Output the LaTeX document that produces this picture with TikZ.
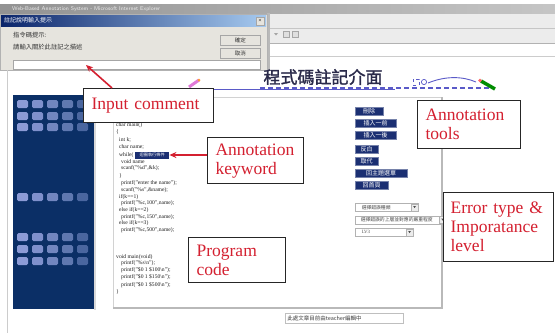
\documentclass[tikz,border=0pt]{standalone}
\usepackage{fontspec}
\setmainfont{Liberation Serif}
\newfontfamily\cjk{Noto Sans CJK TC}
\newfontfamily\cjkb[FakeBold=1.6]{Noto Sans CJK TC}
\usetikzlibrary{arrows.meta}
\definecolor{redc}{HTML}{D42030}
\definecolor{navyp}{HTML}{0B2F66}
\definecolor{navyb}{HTML}{1B2F72}
\definecolor{dlgbg}{HTML}{E6E4DE}
\definecolor{dlgtl}{HTML}{0A246A}
\definecolor{dlgtr}{HTML}{A6CAF0}
\definecolor{sqa}{HTML}{8C9BD6}
\definecolor{sqb}{HTML}{7F90CC}
\definecolor{sqc}{HTML}{7286BF}
\definecolor{sqd}{HTML}{5F78B0}
\definecolor{sqe}{HTML}{4A669F}
\definecolor{bluel}{HTML}{5A5AC8}
\definecolor{titlec}{HTML}{2A2A4A}
\definecolor{pinkp}{HTML}{E07AD8}
\tikzset{
  callout/.style={draw=black!85, line width=1.2pt, fill=white, text=redc,
    font=\fontsize{17.5}{19}\selectfont, align=left, anchor=north west,
    inner xsep=8pt, inner ysep=0pt},
  redarrow/.style={draw=redc, line width=1.6pt, -{Stealth[length=7pt,width=6pt]}},
  codeline/.style={anchor=west, inner sep=0pt, text=black!88, font=\fontsize{5.6}{6}\selectfont},
  toolbtn/.style={fill=navyb, draw=navyb!60, line width=0.4pt, text=white, anchor=north west,
    inner sep=0pt, font=\cjk\fontsize{6}{6}\selectfont, minimum height=8pt},
  dropbox/.style={fill=white, draw=gray!60, line width=0.5pt, anchor=north west, inner xsep=1.5pt,
    inner ysep=0pt, text=black!70, font=\cjk\fontsize{4.8}{5}\selectfont, minimum height=8pt, text depth=0pt},
  dlgbtn/.style={fill=dlgbg, draw=gray!70, line width=0.6pt, anchor=north west, inner sep=0pt,
    minimum width=40pt, minimum height=10pt, font=\cjk\fontsize{5.5}{6}\selectfont, text=black!80},
  dlgtext/.style={anchor=west, inner sep=0pt, text=black!80, font=\cjk\fontsize{6.3}{7}\selectfont}
}
\begin{document}
\begin{tikzpicture}[x=1pt,y=-1pt]
\useasboundingbox (0,0) rectangle (555,333);
\fill[white] (0,0) rectangle (555,333);

% browser chrome
\shade[left color=gray!85, right color=gray!45] (0,4) rectangle (555,14);
\node[anchor=west, inner sep=0pt, text=white!85!gray, font=\sffamily\fontsize{5.5}{6}\selectfont] (ietitle) at (12,9) {Web-Based Annotation System - Microsoft Internet Explorer};
\fill[gray!15] (268,14) rectangle (555,43);
\draw[gray!45] (268,28) -- (555,28);
\draw[gray!60] (268,43) -- (555,43);
\fill[white] (268,44) rectangle (555,56);
\draw[gray!40] (268,56) -- (555,56);
\fill[gray!70] (274,33) -- (278,33) -- (276,35.5) -- cycle;
\draw[gray!70, fill=gray!25] (283,31) rectangle (289,37);
\draw[gray!70, fill=gray!25] (292,31) rectangle (298,37);

% dialog
\fill[gray!55] (267,13) rectangle (270,71);
\draw[gray!60, fill=dlgbg] (0,14) rectangle (267,70);
\shade[left color=dlgtl, right color=dlgtr] (1,15) rectangle (266,26);
\node[anchor=west, inner sep=0pt, text=white, font=\cjk\fontsize{6}{6}\selectfont] (dlgtitle) at (4,20.5) {註記說明輸入提示};
\node[fill=dlgbg, draw=gray!70, inner sep=0pt, minimum width=8pt, minimum height=8pt, font=\fontsize{6}{6}\selectfont] (dlgclose) at (260,21) {×};
\node[dlgtext] (prompt1) at (13,35) {指令碼提示:};
\node[dlgtext] (prompt2) at (13,47) {請輸入關於此註記之描述};
\node[dlgbtn] (okbtn) at (220,35) {確定};
\node[dlgbtn] (cancelbtn) at (220,48) {取消};
\node[fill=white, draw=gray!70, line width=0.6pt, anchor=north west, inner sep=0pt, minimum width=247pt, minimum height=9pt] (inbox) at (13,60) {};

% page
\draw[gray!40, line width=1pt] (7,70) -- (7,333);
\fill[gray!30] (94,97) rectangle (96,310);
\fill[navyp] (13,95) rectangle (94,309);
\foreach \yy in {100,112,123,193,233,245,257}{
  \foreach \i/\c in {0/sqa,1/sqb,2/sqc,3/sqd,4/sqe}{
    \fill[\c, rounded corners=1.5pt] ({17+15*\i},\yy) rectangle ++(11,8);
  }
}

% title and decorations
\node[inner sep=0pt, text=titlec, font=\cjkb\fontsize{17}{17}\selectfont] (title) at (323,77) {程式碼註記介面};
\draw[bluel, line width=0.6pt] (200,89) -- (395,89);
\draw[bluel, line width=1.1pt, dash pattern=on 5pt off 3pt] (260,88) -- (495,88);
\draw[bluel, line width=0.9pt] (428,83) .. controls (445,76) and (462,76) .. (476,82);
\draw[bluel, line width=0.7pt, dashed] (413,79) rectangle (419,85);
\draw[bluel, line width=0.7pt] (424,82) circle (2.6);
\draw[pinkp, line width=3pt] (189,87) -- (199,80);
\fill[orange!80] (199,80) circle (1.5);
\draw[green!55!black, line width=3.5pt] (481,81) -- (495,89);
\fill[red!60] (480,80.5) circle (1.8);

% code frame
\draw[gray!35, line width=0.6pt] (113,97) rectangle (442,308);
\draw[gray!55, line width=1.6pt] (113,308) -- (442,308) -- (442,97);

% code
\node[codeline] (c1) at (116,125) {char main()};
\node[codeline] (c2) at (116,132) {\{};
\node[codeline] (c3) at (119,140) {int k;};
\node[codeline] (c4) at (119,147) {char name;};
\node[codeline] (c5) at (119,155) {while(};
\node[fill=navyb, inner sep=0pt, anchor=west, minimum width=34pt, minimum height=7pt, text=white, font=\cjk\fontsize{4.2}{4}\selectfont] (hl) at (135,155) {迴圈執行條件};
\node[codeline] (c6) at (121,162) {void name};
\node[codeline] (c7) at (121,168) {scanf("\%d",\&k);};
\node[codeline] (c8) at (119,176) {\}};
\node[codeline] (c9) at (121,183) {printf("enter the name");};
\node[codeline] (c10) at (121,190) {scanf("\%s",\&name);};
\node[codeline] (c11) at (119,197) {if(k==1)};
\node[codeline] (c12) at (121,203) {printf("\%c,100",name);};
\node[codeline] (c13) at (119,210) {else if(k==2)};
\node[codeline] (c14) at (121,217) {printf("\%c,150",name);};
\node[codeline] (c15) at (119,223) {else if(k==3)};
\node[codeline] (c16) at (121,230) {printf("\%c,500",name);};
\node[codeline] (c17) at (116,257) {void main(void)};
\node[codeline] (c18) at (121,263) {printf("\%s\textbackslash n");};
\node[codeline] (c19) at (121,270) {printf("\$0 1 \$100\textbackslash n");};
\node[codeline] (c20) at (121,277) {printf("\$0 1 \$150\textbackslash n");};
\node[codeline] (c21) at (121,285) {printf("\$0 1 \$500\textbackslash n");};
\node[codeline] (c22) at (116,292) {\}};

% tool buttons
\node[toolbtn, minimum width=28pt] (b1) at (355,107) {刪除};
\node[toolbtn, minimum width=41pt] (b2) at (355,119) {插入一前};
\node[toolbtn, minimum width=41pt] (b3) at (355,131) {插入一後};
\node[toolbtn, minimum width=23pt] (b4) at (355,145) {反白};
\node[toolbtn, minimum width=23pt] (b5) at (355,157) {取代};
\node[toolbtn, minimum width=52pt] (b6) at (355,169) {回主題選單};
\node[toolbtn, minimum width=33pt] (b7) at (355,181) {回首頁};

% dropdowns
\node[dropbox, minimum width=63pt, text width=50pt] (d1) at (355,203) {選擇錯誤種類};
\node[dropbox, minimum width=91pt, text width=80pt] (d2) at (355,215.5) {選擇錯誤的上層並對應的嚴重程度};
\node[dropbox, minimum width=58pt, text width=45pt, font=\fontsize{4.8}{5}\selectfont] (d3) at (355,228) {LV3};
\foreach \n in {d1,d2,d3}{
  \draw[gray!60, fill=gray!15] ([xshift=-7pt,yshift=-0.8pt]\n.north east) rectangle ([xshift=-0.8pt,yshift=0.8pt]\n.south east);
  \fill[black!70] ([xshift=-5.3pt,yshift=-3pt]\n.north east) -- ([xshift=-2.5pt,yshift=-3pt]\n.north east) -- ([xshift=-3.9pt,yshift=-5pt]\n.north east) -- cycle;
}

% status box
\node[fill=white, draw=gray!50, line width=0.6pt, anchor=north west, inner xsep=2pt, inner ysep=0pt,
  minimum width=118pt, minimum height=10pt, text width=114pt, align=left, text=black!75,
  font=\cjk\fontsize{5.5}{6}\selectfont] (status) at (285,313) {此處文章目前由teacher編輯中};

% callouts
\node[callout, text width=114pt, minimum height=34pt] (ic) at (83,88) {Input comment};
\node[callout, text width=80pt, minimum height=46pt] (kw) at (207,137) {Annotation\\keyword};
\node[callout, text width=81pt, minimum height=45pt] (pc) at (188,237) {Program\\code};
\node[callout, text width=87pt, minimum height=48pt] (at) at (417,100) {Annotation\\tools};
\node[callout, text width=96pt, inner xsep=7pt, minimum height=69pt] (et) at (443,192) {Error type \&\\Imporatance\\level};

% arrows
\coordinate (intip) at (86,65);
\draw[redarrow] ([xshift=29pt]ic.north west) -- (intip);
\draw[redarrow] (kw.west |- hl.east) -- (hl.east);
\end{tikzpicture}
\end{document}
